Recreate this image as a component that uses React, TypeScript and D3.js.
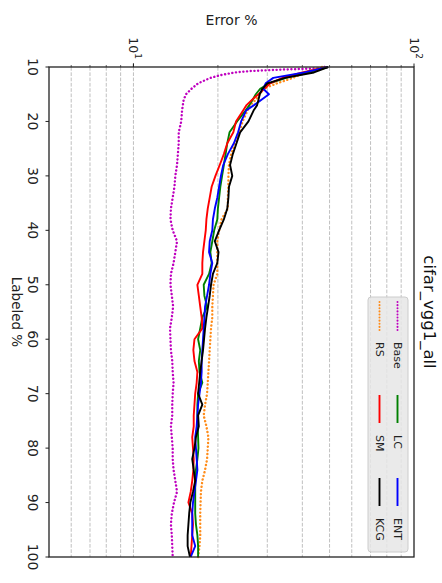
import React from 'react';
import * as d3 from 'd3';

// the figure is drawn unrotated (583 wide, 442 high) and then turned 90deg clockwise

const labeled = [10, 11, 12, 13, 14, 15, 16, 17, 18, 20, 22, 24, 26, 28, 30, 32, 34, 36, 38, 40, 42, 44, 46, 48, 50,
    52, 54, 56, 58, 60, 62, 64, 66, 68, 70, 72, 74, 76, 78, 80, 82, 84, 86, 88, 90, 92, 94, 96, 98, 100];
const baseLabeled = [10, 10.25, 10.5, 10.75, 11, 11.5, 12, 13, 14, 15, 16, 18, 20, 22, 24, 26, 28, 30, 32, 34, 36, 38, 40,
    42, 44, 46, 48, 50, 52, 54, 56, 58, 60, 62, 64, 66, 68, 70, 72, 74, 76, 78, 80, 82, 84, 86, 88, 90, 92, 94, 96, 98, 100];

const baseErr = [48, 46, 33, 26, 23, 20.4, 18.8, 17.0, 16.1, 15.4, 15.1, 14.9,
    14.8, 14.5, 14.5, 14.4, 14.3, 14.1, 14.0, 13.8, 13.6, 13.55, 13.8, 14.3, 14.1, 13.9, 13.6, 13.55, 13.7, 13.85, 13.7, 13.5,
    13.55, 13.6, 13.75, 13.8, 13.9, 13.8, 13.75, 13.75, 13.6, 13.7, 13.8, 13.8, 13.9, 14.1, 14.3, 13.95, 13.7, 13.6, 13.7, 13.75, 13.8];
const rsErr = [47, 41, 37, 32.5, 29.0, 28.2, 27.3, 26.1, 25.5,
    24.5, 23.8, 23.0, 22.3, 21.9, 21.8, 21.8, 21.7, 21.7, 20.6, 20.2, 19.9, 19.9, 19.9, 19.9, 19.3, 19.2, 19.1, 19.1, 18.9,
    18.8, 18.7, 18.6, 18.5, 18.4, 18.3, 18.0, 17.8, 18.2, 18.5, 18.4, 18.3, 18.0, 17.6, 17.4, 17.35, 17.3, 17.3, 17.3, 17.2, 17.0];
const lcErr = [49.4, 42, 35, 30.5, 28.3, 27.3, 26.6, 25.9, 25.1,
    23.4, 22.0, 21.6, 21.3, 21.0, 20.7, 20.4, 20.2, 20.0, 19.9, 19.4, 19.1, 18.8, 19.0, 18.6, 17.8, 17.9, 18.3, 17.6, 17.3,
    17.0, 17.3, 17.1, 17.2, 17.6, 17.0, 16.9, 16.9, 16.95, 17.0, 17.05, 16.9, 16.7, 16.6, 16.6, 16.6, 16.6, 16.7, 16.9, 17.0, 17.0];
const smErr = [49.4, 40.0, 34.0, 30.7, 29.3, 27.9, 26.5, 25.3, 24.6,
    23.2, 22.7, 21.6, 21.0, 20.3, 19.6, 19.0, 18.7, 18.4, 18.2, 18.1, 17.9, 17.7, 17.6, 17.6, 16.9, 17.1, 17.3, 17.5, 17.6,
    16.5, 16.35, 16.5, 16.9, 16.8, 16.6, 16.5, 16.4, 16.4, 16.2, 16.3, 16.4, 16.35, 16.2, 16.0, 15.7, 16.2, 16.3, 16.2, 16.1, 16.0];
const entErr = [49.4, 40.7, 31.5, 29.6, 29.0, 30.4, 28.6, 26.9, 25.2,
    24.2, 23.6, 22.8, 21.7, 20.9, 20.5, 20.2, 19.9, 19.5, 19.2, 19.1, 18.7, 18.6, 19.1, 18.8, 18.6, 18.3, 18.0, 17.9, 17.8,
    17.7, 17.6, 17.5, 17.5, 17.4, 17.2, 17.0, 16.9, 16.8, 16.6, 16.7, 16.8, 16.9, 16.7, 16.5, 16.3, 16.2, 16.2, 16.2, 16.6, 16.0];
const kcgErr = [49.4, 44, 34.7, 30, 28.8, 28.2, 27.9, 27.6, 26.8,
    25.7, 24.0, 23.3, 22.6, 22.1, 22.5, 21.9, 21.8, 21.6, 21.0, 20.2, 19.5, 20.1, 19.9, 19.2, 18.9, 18.7, 18.45, 18.2, 18.0,
    17.85, 17.7, 17.5, 17.3, 17.15, 17.0, 17.6, 17.0, 17.1, 16.7, 16.5, 16.2, 16.4, 16.6, 16.3, 15.95, 15.8, 15.7, 15.6, 15.6, 15.9];

const xTicks = [10, 20, 30, 40, 50, 60, 70, 80, 90, 100];
const yMajor = [10, 100];

const series = [
    {name: 'Base', xs: baseLabeled, ys: baseErr, color: '#bf00bf', dotted: true},
    {name: 'RS', xs: labeled, ys: rsErr, color: '#ff8c1a', dotted: true},
    {name: 'LC', xs: labeled, ys: lcErr, color: '#008000', dotted: false},
    {name: 'SM', xs: labeled, ys: smErr, color: '#ff0000', dotted: false},
    {name: 'ENT', xs: labeled, ys: entErr, color: '#0000ff', dotted: false},
    {name: 'KCG', xs: labeled, ys: kcgErr, color: '#000000', dotted: false},
];

const W = 583, H = 442;
const left = 67, right = 557, top = 28, bottom = 393;
const font = 'DejaVu Sans, sans-serif';

export default function App() {
    const x = d3.scaleLinear().domain([10, 100]).range([left, right]);
    const y = d3.scaleLog().domain([5, 100]).range([bottom, top]);
    const line = d3.line<number>();

    const yTicks = y.ticks().filter(t => t > 5 && t < 100);

    // legend: 3 columns, filled column-wise like matplotlib
    const legX = 297, legY = 34, colW = [93, 83, 0];

    return (
        <svg width={H} height={W} style={{position: 'absolute', left: 0, top: 0}}>
            <rect width={H} height={W} fill="white"/>
            <g transform={`translate(${H},0) rotate(90)`} fontFamily={font}>
                {/* grid */}
                {yTicks.map(t => (
                    <line key={'g' + t} x1={left} x2={right} y1={y(t)} y2={y(t)}
                          stroke="#b0b0b0" strokeWidth={0.8} strokeDasharray="3.7 1.6"/>
                ))}

                {/* series */}
                {series.map(s => {
                    const d = line.x((_, i) => x(s.xs[i])).y((v) => y(v))(s.ys);
                    return (
                        <path key={s.name} d={d || ''} fill="none" stroke={s.color}
                              strokeWidth={s.dotted ? 2.4 : 1.9}
                              strokeDasharray={s.dotted ? '0.1 3.6' : undefined}
                              strokeLinecap={s.dotted ? 'round' : 'butt'}
                              strokeLinejoin="round"/>
                    );
                })}

                {/* frame */}
                <rect x={left} y={top} width={right - left} height={bottom - top}
                      fill="none" stroke="#222" strokeWidth={1.3}/>

                {/* y ticks (log) */}
                {yTicks.concat(yMajor).map(t => (
                    <line key={'yt' + t} x1={left} x2={left - (yMajor.includes(t) ? 3.5 : 2)}
                          y1={y(t)} y2={y(t)} stroke="#222" strokeWidth={yMajor.includes(t) ? 1 : 0.7}/>
                ))}
                {yMajor.map(t => (
                    <text key={'yl' + t} x={left - 8} y={y(t)} textAnchor="end" dominantBaseline="central"
                          fontSize={12.5} fill="#222">
                        10<tspan dy={-5} fontSize={9}>{Math.round(Math.log10(t))}</tspan>
                    </text>
                ))}

                {/* x ticks */}
                {xTicks.map(t => (
                    <g key={'xt' + t}>
                        <line x1={x(t)} x2={x(t)} y1={bottom} y2={bottom + 3.5} stroke="#222" strokeWidth={1}/>
                        <text x={x(t)} y={bottom + 21} textAnchor="middle" fontSize={14} fill="#222">{t}</text>
                    </g>
                ))}

                {/* labels */}
                <text x={(left + right) / 2} y={430} textAnchor="middle" fontSize={13.5} fill="#222">Labeled %</text>
                <text transform={`translate(25,${(top + bottom) / 2}) rotate(-90)`} textAnchor="middle"
                      fontSize={14} fill="#222">Error %</text>
                <text x={(left + right) / 2} y={18} textAnchor="middle" fontSize={16.5} fill="#111">cifar_vgg1_all</text>

                {/* legend */}
                <rect x={legX} y={legY} width={255} height={40} rx={3} fill="#e6e6e6" fillOpacity={0.85}
                      stroke="#cccccc" strokeWidth={1}/>
                {series.map((s, i) => {
                    const col = Math.floor(i / 2), row = i % 2;
                    const lx = legX + 5 + colW.slice(0, col).reduce((a, b) => a + b, 0);
                    const ly = legY + 10.5 + row * 18;
                    return (
                        <g key={'lg' + s.name}>
                            <line x1={lx} x2={lx + 28} y1={ly} y2={ly} stroke={s.color}
                                  strokeWidth={s.dotted ? 2 : 1.9}
                                  strokeDasharray={s.dotted ? '0.1 3' : undefined}
                                  strokeLinecap={s.dotted ? 'round' : 'butt'}/>
                            <text x={lx + 40} y={ly} dominantBaseline="central" fontSize={11} fill="#222">{s.name}</text>
                        </g>
                    );
                })}
            </g>
        </svg>
    );
}
